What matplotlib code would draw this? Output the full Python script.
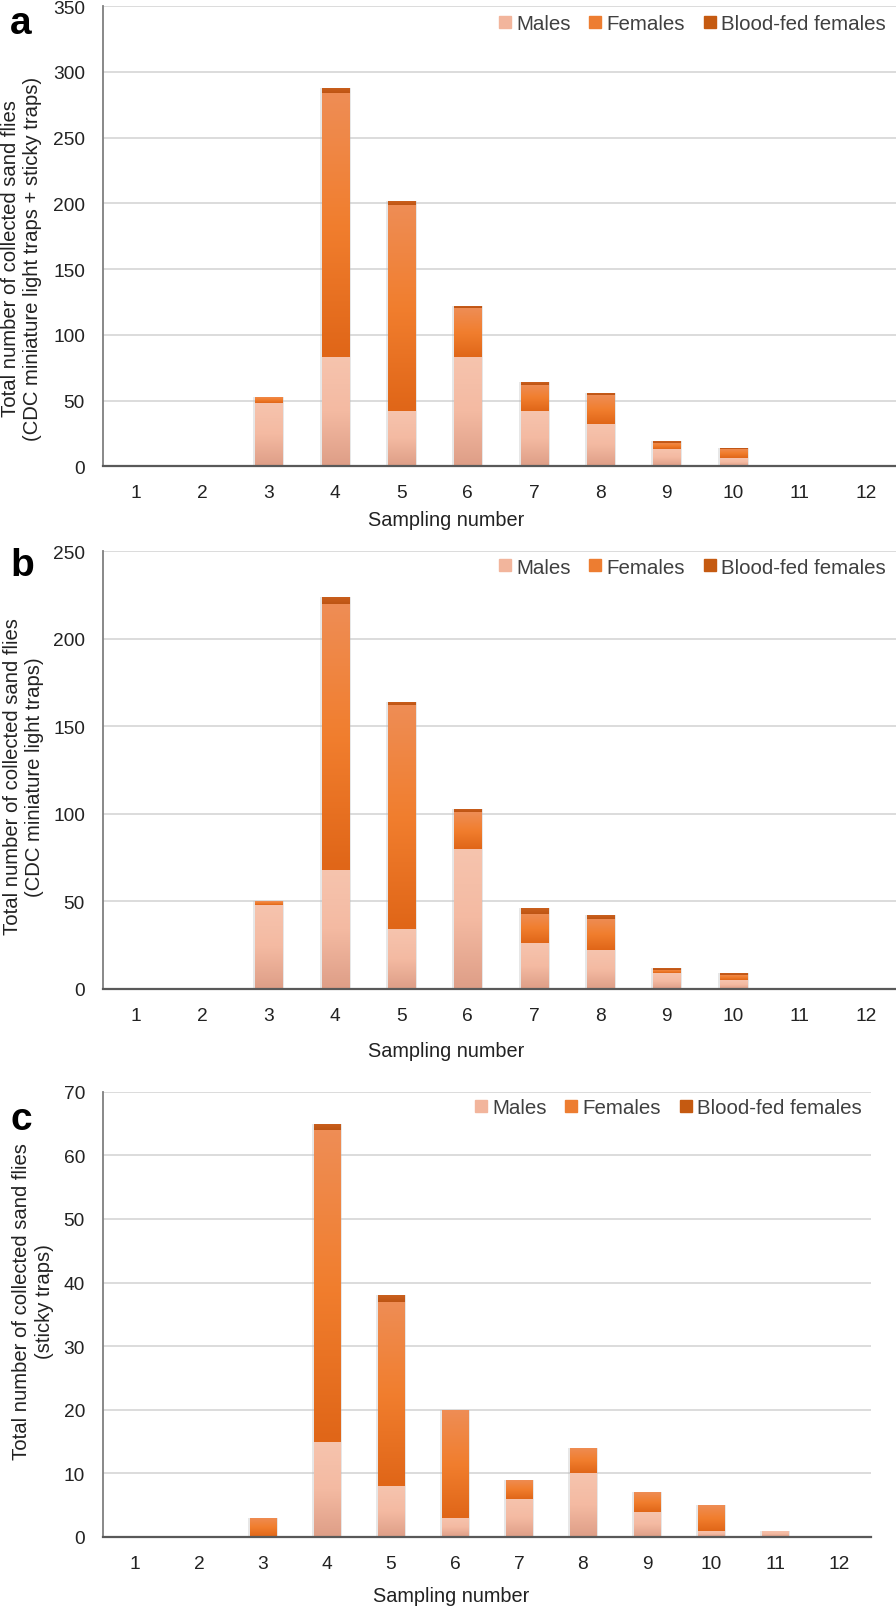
import numpy as np
import matplotlib
matplotlib.use('Agg')
import matplotlib.pyplot as plt
from matplotlib.colors import LinearSegmentedColormap
from matplotlib.lines import Line2D

plt.rcParams['font.family'] = ['Liberation Sans', 'DejaVu Sans']

# sampling numbers
samples = np.arange(1, 13)
# a: CDC miniature light traps + sticky traps
a_males = [0, 0, 48, 83, 42, 83, 42, 32, 13, 6, 1, 0]
a_females = [0, 0, 5, 201, 157, 37, 20, 22, 5, 7, 0, 0]
a_blood = [0, 0, 0, 4, 3, 2, 2, 2, 1, 1, 0, 0]
# b: CDC miniature light traps
b_males = [0, 0, 48, 68, 34, 80, 26, 22, 9, 5, 0, 0]
b_females = [0, 0, 2, 152, 128, 21, 17, 18, 2, 3, 0, 0]
b_blood = [0, 0, 0, 4, 2, 2, 3, 2, 1, 1, 0, 0]
# c: sticky traps
c_males = [0, 0, 0, 15, 8, 3, 6, 10, 4, 1, 1, 0]
c_females = [0, 0, 3, 49, 29, 17, 3, 4, 3, 4, 0, 0]
c_blood = [0, 0, 0, 1, 1, 0, 0, 0, 0, 0, 0, 0]

legend_labels = ['Males', 'Females', 'Blood-fed females']
legend_cols = ['#F2B59C', '#ED7D31', '#C55A11']

# gradients (top -> bottom)
grad_males = ['#F6C4AE', '#F4BAA2', '#DE9E87']
grad_females = ['#EE8D55', '#F17E2E', '#E06618']
grad_blood = ['#C9601F', '#C55A18', '#BD5514']

W, H = 896, 1608
fig = plt.figure(figsize=(W / 100, H / 100), dpi=100)


def px_box(left, right, top, bottom):
    return [left / W, 1 - bottom / H, (right - left) / W, (bottom - top) / H]


def grad_bars(ax, x, h, b, cols, width):
    cmap = LinearSegmentedColormap.from_list('g', cols[::-1])
    grad = np.linspace(0, 1, 100).reshape(-1, 1)
    # soft shadow behind bars
    ax.bar(x, h, width + 0.06, bottom=b, color='#BBBBBB', alpha=0.35, zorder=2, linewidth=0)
    bars = ax.bar(x, h, width, bottom=b, color=cols[1], zorder=3, linewidth=0)
    for p in bars:
        if p.get_height() <= 0:
            continue
        x0, y0 = p.get_x(), p.get_y()
        im = ax.imshow(grad, cmap=cmap, origin='lower', aspect='auto', zorder=3.5,
                       extent=(x0, x0 + p.get_width(), y0, y0 + p.get_height()),
                       interpolation='bilinear')
        im.set_clip_path(p)


def panel(box, males, females, blood, ymax, ystep, letter, ylab, ylab_pos, xlab_pos, leg_pos):
    ax = fig.add_axes(px_box(*box))
    m = np.array(males)
    f = np.array(females)
    bl = np.array(blood)
    width = 0.41
    grad_bars(ax, samples, m, 0, grad_males, width)
    grad_bars(ax, samples, f, m, grad_females, width)
    grad_bars(ax, samples, bl, m + f, grad_blood, width)
    ax.set_xlim(0.5, 12.5)
    ax.set_ylim(0, ymax)
    ax.set_yticks(np.arange(0, ymax + 1, ystep))
    ax.set_xticks(samples)
    ax.grid(axis='y', color='#D9D9D9', linewidth=1.3, zorder=0)
    ax.set_axisbelow(True)
    for s in ['top', 'right']:
        ax.spines[s].set_visible(False)
    ax.spines['left'].set_color('#7F7F7F')
    ax.spines['left'].set_linewidth(1.3)
    ax.spines['bottom'].set_color('#595959')
    ax.spines['bottom'].set_linewidth(1.6)
    ax.spines['bottom'].set_zorder(5)
    ax.tick_params(axis='both', length=0, labelsize=13.8, colors='#222222')
    ax.tick_params(axis='x', pad=13)
    ax.tick_params(axis='y', pad=13)
    fig.text(10 / W, 1 - letter[1] / H, letter[0], fontsize=28, fontweight='bold',
             ha='left', va='center')
    fig.text(ylab_pos[0] / W, 1 - ylab_pos[1] / H, ylab, rotation=90, fontsize=14.6,
             ha='center', va='center', multialignment='center', color='#222222')
    fig.text(xlab_pos[0] / W, 1 - xlab_pos[1] / H, 'Sampling number', fontsize=14.3,
             ha='center', va='center', color='#222222')
    handles = [Line2D([], [], marker='s', linestyle='none', markersize=8.5,
                      markerfacecolor=c, markeredgecolor=c) for c in legend_cols]
    fig.legend(handles, legend_labels, ncol=3, frameon=False, fontsize=14.8,
               loc='center right', bbox_to_anchor=(leg_pos[0] / W, 1 - leg_pos[1] / H),
               handlelength=0.6, handletextpad=0.25, columnspacing=0.9,
               borderpad=0, borderaxespad=0, labelcolor='#404040')
    return ax


panel((103, 899, 7, 467.3), a_males, a_females, a_blood, 350, 50, ('a', 24),
      'Total number of collected sand flies\n(CDC miniature light traps + sticky traps)',
      (22, 259), (446, 521), (886, 25))
panel((103, 899, 552.3, 990), b_males, b_females, b_blood, 250, 50, ('b', 566),
      'Total number of collected sand flies\n(CDC miniature light traps)',
      (24, 777), (446, 1052), (886, 568))
panel((103, 871, 1092.7, 1538), c_males, c_females, c_blood, 70, 10, ('c', 1120),
      'Total number of collected sand flies\n(sticky traps)',
      (33, 1302), (451, 1597), (862, 1109))

fig.savefig('out.png', dpi=100)
